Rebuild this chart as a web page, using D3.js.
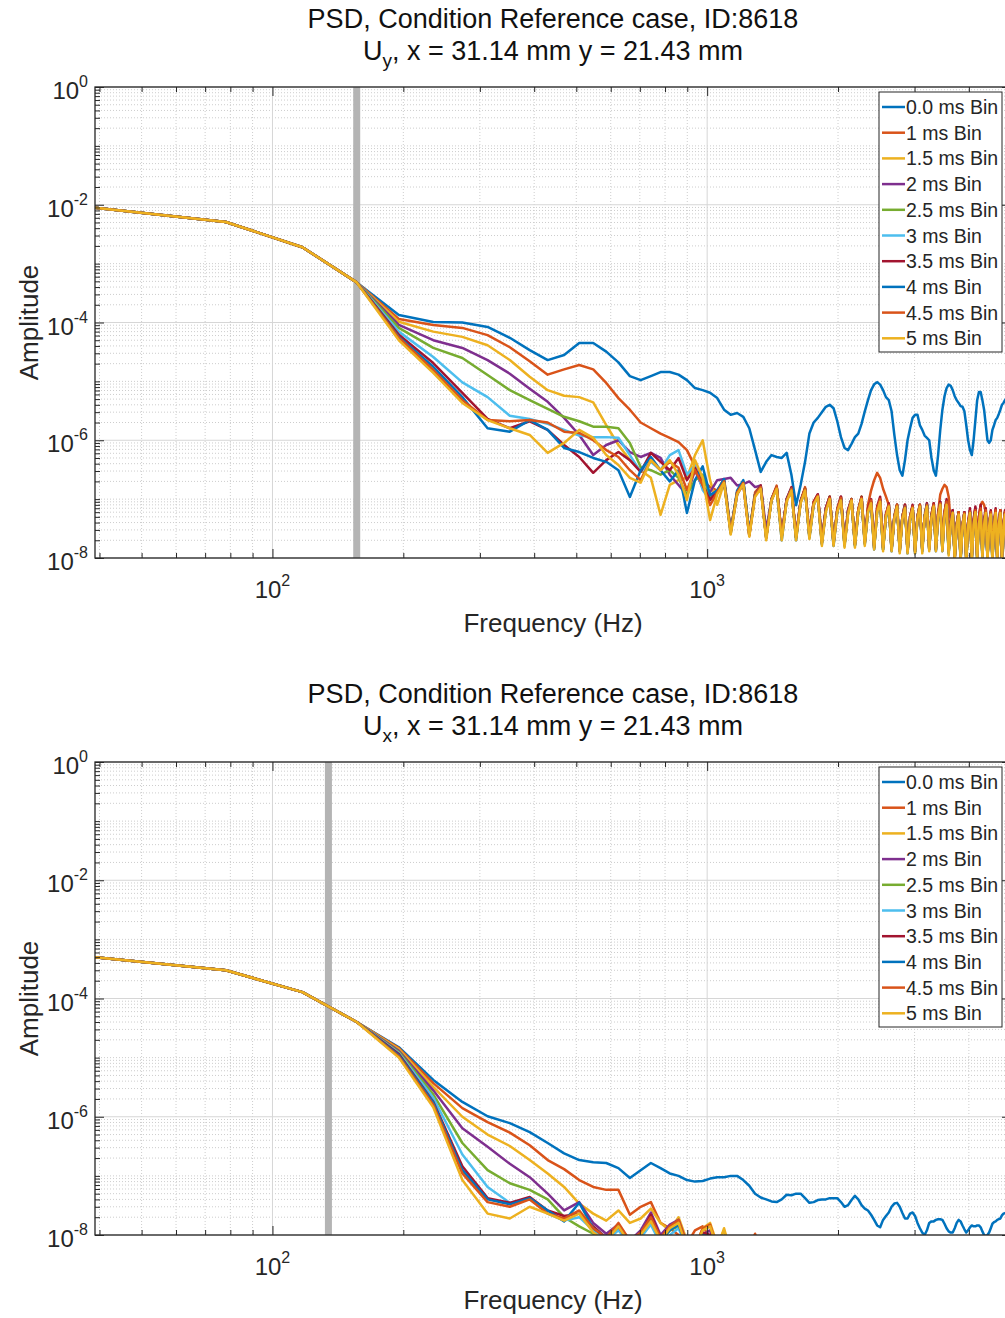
<!DOCTYPE html>
<html lang="en">
<head>
<meta charset="UTF-8">
<title>PSD, Condition Reference case, ID:8618</title>
<script src="https://cdn.jsdelivr.net/npm/d3@7"></script>
<style>
  body { margin: 0; background: #fff; }
  svg { display: block; font-family: "Liberation Sans", Arial, Helvetica, sans-serif; }
</style>
</head>
<body>
<div id="chart"></div>
<script>
// FFT bin grid: 39.0625 Hz spacing, 128 bins up to 5 kHz
var df = 39.0625;
var freq = d3.range(1, 129).map(function (k) { return k * df; });

var binNames = ["0.0 ms Bin", "1 ms Bin", "1.5 ms Bin", "2 ms Bin", "2.5 ms Bin",
                "3 ms Bin", "3.5 ms Bin", "4 ms Bin", "4.5 ms Bin", "5 ms Bin"];
var colors = ["#0072BD", "#D95319", "#EDB120", "#7E2F8E", "#77AC30",
              "#4DBEEE", "#A2142F", "#0072BD", "#D95319", "#EDB120"];

var xMajorTicks = [100, 1000];
var yMajorTicks = [1e0, 1e-2, 1e-4, 1e-6, 1e-8];
var markerFreq = [156.25, 134.5];

// ---- U_y spectra (top) ----
var uy00 = [8.9e-3,5.1e-3,1.9e-3,4.8e-4,
  1.34e-4,1.02e-4,1.0e-4,8.4e-5,5.5e-5,3.4e-5,2.3e-5,2.8e-5,
  4.5e-5,4.5e-5,3.2e-5,2.1e-5,1.23e-5,1.05e-5,1.23e-5,1.44e-5,
  1.44e-5,1.3e-5,1.05e-5,7.7e-6,7.1e-6,6.4e-6,
  5.2e-6,3.3e-6,2.7e-6,2.9e-6,2.5e-6,1.6e-6,
  6.8e-7,2.9e-7,4.3e-7,5.6e-7,5.2e-7,5.0e-7,6.1e-7,2.6e-7,
  7.9e-8,1.74e-7,4.3e-7,1.3e-6,2.0e-6,2.4e-6,3.0e-6,3.7e-6,4.0e-6,3.5e-6,
  2.1e-6,1.13e-6,7.4e-7,6.8e-7,8.7e-7,1.13e-6,1.3e-6,1.9e-6,3.1e-6,4.8e-6,
  7.1e-6,8.9e-6,9.7e-6,8.8e-6,7.1e-6,5.4e-6,4.8e-6,3.1e-6,1.23e-6,5.6e-7,
  3.1e-7,2.5e-7,4.6e-7,1.0e-6,1.6e-6,2.4e-6,2.7e-6,2.7e-6,1.8e-6,1.5e-6,
  1.2e-6,1.1e-6,1.0e-6,5.0e-7,3.1e-7,2.5e-7,5.6e-7,1.5e-6,3.3e-6,5.6e-6,
  7.7e-6,8.8e-6,8.4e-6,7.1e-6,5.6e-6,4.8e-6,4.3e-6,3.8e-6,3.7e-6,3.1e-6,
  1.8e-6,1.0e-6,6.8e-7,5.6e-7,1.0e-6,2.2e-6,4.8e-6,6.6e-6,6.6e-6,4.8e-6,
  3.3e-6,1.8e-6,1.0e-6,9.0e-7,1.0e-6,1.5e-6,1.8e-6,2.2e-6,2.4e-6,2.8e-6,
  3.3e-6,4.0e-6,4.3e-6,4.8e-6,5.2e-6,5.4e-6,5.4e-6,5.2e-6];
var uy10 = [8.9e-3,5.1e-3,1.9e-3,4.8e-4,
  1.15e-4,9.1e-5,8.1e-5,6.1e-5,3.8e-5,2.2e-5,1.3e-5,1.6e-5,
  1.9e-5,1.6e-5,9.4e-6,5.2e-6,3.3e-6,2.0e-6,1.6e-6,1.3e-6,
  1.1e-6,9.3e-7,6.8e-7,3.6e-7,2.1e-7,1.6e-7,
  1.4e-7,2.2e-7,3e-8, 1.3e-7,2e-7,2.6e-8, 1.3e-7,1.7e-7,2.2e-8, 1e-7,1.7e-7,2.4e-8,
  1e-7,1.5e-7,2.2e-8, 9e-8,1.6e-7,2.5e-8, 9e-8,1.2e-7,1.9e-8, 7e-8,1.1e-7,1.8e-8,
  7e-8,1.1e-7,1.7e-8, 6.5e-8,1e-7,1.8e-8, 6.5e-8,1.1e-7,2e-8, 8e-8,1.4e-7,2.1e-7,
  2.8e-7,2.3e-7,1.5e-7, 1.1e-7,8e-8,2e-8, 5e-8,8e-8,1.4e-8, 5e-8,8e-8,1.4e-8,
  5e-8,7.5e-8,1.3e-8, 5e-8,8e-8,1.4e-8, 5e-8,8e-8,1.5e-8, 5.5e-8,8.5e-8,1.6e-8,
  6e-8,1.2e-7,1.5e-7, 1.75e-7,1.6e-7,1.1e-7, 4e-8,6.5e-8,1e-8, 3.6e-8,6e-8,1e-8,
  3.6e-8,6e-8,1e-8, 3.6e-8,6e-8,1e-8, 4e-8,7e-8,1.1e-8, 5e-8,8e-8,9e-8,
  8e-8,6e-8,1e-8, 3.6e-8,6e-8,1e-8, 3.6e-8,6e-8,1e-8, 4e-8,6.5e-8,1.1e-8,
  4e-8,6e-8,1e-8, 3.6e-8,6e-8,1e-8];
var uy15 = [8.9e-3,5.1e-3,1.9e-3,4.8e-4,
  1.03e-4,7.0e-5,5.7e-5,4.1e-5,2.3e-5,1.2e-5,7.1e-6,5.7e-6,
  5.4e-6,4.4e-6,1.8e-6,8.3e-7,4.6e-7,3.1e-7,2.3e-7,5.4e-8,
  1.74e-7,2.1e-7,2.3e-7,5.6e-7,1.0e-6,2.1e-7,
  8e-8,1.9e-7,2.6e-8, 1.2e-7,1.9e-7,2.4e-8, 1.2e-7,1.6e-7,2.2e-8, 1e-7,1.6e-7,2.3e-8,
  9.5e-8,1.5e-7,2.2e-8, 9e-8,1.5e-7,2.4e-8, 9e-8,1.1e-7,1.8e-8, 6.5e-8,1.1e-7,1.8e-8,
  6.5e-8,1e-7,1.7e-8, 6e-8,1e-7,1.7e-8, 6.5e-8,1e-7,1.8e-8, 6e-8,8.5e-8,1.5e-8,
  6e-8,9e-8,1.4e-8, 5e-8,8e-8,1.4e-8, 5e-8,7.5e-8,1.3e-8, 5e-8,8e-8,1.4e-8,
  4.5e-8,7.5e-8,1.3e-8, 5e-8,7.5e-8,1.4e-8, 5e-8,8e-8,1.4e-8, 5e-8,8e-8,1.5e-8,
  5e-8,8e-8,1.4e-8, 5.5e-8,9e-8,1.3e-8, 4e-8,6e-8,1e-8, 3.6e-8,6e-8,1e-8,
  3.6e-8,5.5e-8,9e-9, 3.6e-8,6e-8,1e-8, 3.8e-8,6.5e-8,1e-8, 4e-8,6.5e-8,1.1e-8,
  4e-8,6e-8,1e-8, 3.6e-8,6e-8,9e-9, 3.6e-8,6e-8,1e-8, 3.8e-8,6e-8,1e-8,
  3.6e-8,5.5e-8,9e-9, 3.5e-8,6e-8,1e-8];
var uy20 = [8.9e-3,5.1e-3,1.9e-3,4.8e-4,
  9.1e-5,5.0e-5,3.7e-5,2.3e-5,1.35e-5,7.5e-6,4.5e-6,2.4e-6,
  1.23e-6,5.6e-7,8.3e-7,1.0e-6,6.3e-7,5.2e-7,6.1e-7,5.0e-7,
  2.6e-7,1.74e-7,1.17e-7,3.1e-7,1.55e-7,1.32e-7,
  2.1e-7,2.2e-7,2.3e-7, 1.7e-7,1.8e-7,2e-7, 1.6e-7,1.7e-7,3e-8, 1e-7,1.6e-7,2.4e-8,
  1e-7,1.5e-7,2.3e-8, 9e-8,1.5e-7,2.3e-8, 8.5e-8,1.2e-7,1.9e-8, 7e-8,1.1e-7,1.8e-8,
  6.5e-8,1.1e-7,1.8e-8, 6.5e-8,1e-7,1.7e-8, 6.5e-8,1.05e-7,1.8e-8, 6.5e-8,9e-8,1.6e-8,
  7e-8,1e-7,1.5e-8, 5.5e-8,8e-8,1.4e-8, 5e-8,8e-8,1.4e-8, 5e-8,8e-8,1.3e-8,
  5e-8,7.5e-8,1.3e-8, 5e-8,8e-8,1.4e-8, 5e-8,8.5e-8,1.5e-8, 5e-8,8e-8,1.4e-8,
  5.5e-8,9e-8,1.5e-8, 6e-8,9e-8,1.3e-8, 4e-8,6.5e-8,1e-8, 3.8e-8,6e-8,1e-8,
  3.6e-8,6e-8,1e-8, 4e-8,6.5e-8,1.1e-8, 4.5e-8,7e-8,1.1e-8, 4.5e-8,7e-8,1.1e-8,
  4e-8,6.5e-8,1e-8, 3.6e-8,6e-8,1e-8, 3.8e-8,6.5e-8,1e-8, 4e-8,6.5e-8,1e-8,
  3.8e-8,6e-8,1e-8, 3.6e-8,6e-8,1e-8];
var uy25 = [8.9e-3,5.1e-3,1.9e-3,4.8e-4,
  8.1e-5,3.7e-5,2.5e-5,1.28e-5,7.1e-6,4.8e-6,3.4e-6,2.5e-6,
  2.1e-6,1.7e-6,1.7e-6,1.6e-6,9.0e-7,3.5e-7,3.1e-7,2.6e-7,
  3.1e-7,2.3e-7,1.17e-7,2.1e-7,2.6e-7,1.09e-7,
  1.4e-7,2e-7,2.8e-8, 1.3e-7,2e-7,2.6e-8, 1.2e-7,1.6e-7,2.3e-8, 9.5e-8,1.6e-7,2.3e-8,
  9.5e-8,1.5e-7,2.2e-8, 9e-8,1.5e-7,2.3e-8, 8.5e-8,1.1e-7,1.8e-8, 6.5e-8,1.1e-7,1.8e-8,
  6.5e-8,1.05e-7,1.7e-8, 6e-8,1e-7,1.7e-8, 6.5e-8,1.1e-7,1.9e-8, 6.5e-8,9e-8,1.5e-8,
  6.5e-8,9.5e-8,1.4e-8, 5e-8,8e-8,1.4e-8, 5e-8,8e-8,1.3e-8, 5e-8,7.5e-8,1.3e-8,
  4.8e-8,7.5e-8,1.3e-8, 5e-8,8e-8,1.4e-8, 5e-8,8e-8,1.5e-8, 5.2e-8,8e-8,1.4e-8,
  5e-8,8.5e-8,1.4e-8, 5.5e-8,8.5e-8,1.2e-8, 3.8e-8,6e-8,1e-8, 3.6e-8,6e-8,9.5e-9,
  3.6e-8,5.8e-8,1e-8, 3.6e-8,6e-8,1e-8, 4e-8,6.5e-8,1e-8, 4.2e-8,6.5e-8,1.1e-8,
  4e-8,6e-8,1e-8, 3.5e-8,5.8e-8,9e-9, 3.6e-8,6e-8,1e-8, 3.8e-8,6.2e-8,1e-8,
  3.6e-8,6e-8,9.5e-9, 3.6e-8,5.8e-8,1e-8];
var uy30 = [8.9e-3,5.1e-3,1.9e-3,4.8e-4,
  7.0e-5,2.6e-5,9.6e-6,5.4e-6,2.6e-6,2.3e-6,1.9e-6,1.5e-6,
  1.2e-6,1.13e-6,1.13e-6,1.1e-6,5.6e-7,2.9e-7,4.3e-7,3.1e-7,
  5.6e-7,6.8e-7,2.6e-7,3.8e-7,1.43e-7,9.7e-8,
  1.3e-7,1.9e-7,2.6e-8, 1.2e-7,1.9e-7,2.5e-8, 1.2e-7,1.6e-7,2.3e-8, 1e-7,1.5e-7,2.3e-8,
  9.5e-8,1.5e-7,2.2e-8, 9e-8,1.4e-7,2.3e-8, 8.5e-8,1.1e-7,1.8e-8, 6.5e-8,1.05e-7,1.7e-8,
  6.5e-8,1e-7,1.7e-8, 6e-8,1e-7,1.6e-8, 6e-8,1e-7,1.8e-8, 6e-8,8.5e-8,1.5e-8,
  6.5e-8,9e-8,1.4e-8, 5e-8,8e-8,1.4e-8, 5e-8,7.5e-8,1.3e-8, 5e-8,7.5e-8,1.3e-8,
  4.8e-8,7.5e-8,1.3e-8, 5e-8,7.5e-8,1.3e-8, 5e-8,8e-8,1.4e-8, 5e-8,8e-8,1.4e-8,
  5e-8,8e-8,1.4e-8, 5.5e-8,8.5e-8,1.2e-8, 3.8e-8,6e-8,1e-8, 3.6e-8,5.8e-8,9.5e-9,
  3.5e-8,5.8e-8,9.5e-9, 3.6e-8,6e-8,1e-8, 4e-8,6.2e-8,1e-8, 4e-8,6.5e-8,1e-8,
  3.8e-8,6e-8,1e-8, 3.5e-8,5.8e-8,9e-9, 3.6e-8,6e-8,1e-8, 3.8e-8,6e-8,1e-8,
  3.6e-8,5.8e-8,9e-9, 3.5e-8,5.8e-8,1e-8];
var uy35 = [8.9e-3,5.1e-3,1.9e-3,4.8e-4,
  6.2e-5,2.05e-5,6.4e-6,2.3e-6,1.6e-6,2.1e-6,1.5e-6,8.3e-7,
  5.2e-7,2.8e-7,4.6e-7,6.3e-7,4.6e-7,2.9e-7,6.1e-7,4.3e-7,
  3.1e-7,5.0e-7,2.1e-7,3.4e-7,1.74e-7,9.7e-8,
  1.4e-7,2e-7,2.8e-8, 1.2e-7,1.8e-7,2.4e-8, 1.2e-7,1.7e-7,2.3e-8, 1e-7,1.6e-7,2.4e-8,
  1e-7,1.6e-7,2.3e-8, 9.5e-8,1.5e-7,2.4e-8, 9e-8,1.2e-7,1.9e-8, 7e-8,1.1e-7,1.8e-8,
  6.5e-8,1.1e-7,1.8e-8, 6.5e-8,1e-7,1.7e-8, 6.5e-8,1.1e-7,1.9e-8, 7e-8,1e-7,1.6e-8,
  7.5e-8,1.1e-7,1.5e-8, 5.5e-8,8.5e-8,1.4e-8, 5e-8,8e-8,1.4e-8, 5e-8,8e-8,1.3e-8,
  5e-8,8e-8,1.4e-8, 5e-8,8e-8,1.4e-8, 5e-8,8.5e-8,1.5e-8, 5.5e-8,8.5e-8,1.5e-8,
  5.5e-8,9e-8,1.5e-8, 6e-8,1e-7,1.3e-8, 4e-8,6.5e-8,1e-8, 3.8e-8,6e-8,1e-8,
  3.6e-8,6e-8,1e-8, 4e-8,7e-8,1.1e-8, 4.5e-8,7.5e-8,1.1e-8, 5e-8,8e-8,1.2e-8,
  4.5e-8,7e-8,1e-8, 3.8e-8,6.5e-8,1e-8, 4e-8,7e-8,1e-8, 4e-8,6.5e-8,1e-8,
  3.8e-8,6.5e-8,1e-8, 3.6e-8,6e-8,1e-8];
var uy40 = [8.9e-3,5.1e-3,1.9e-3,4.8e-4,
  5.7e-5,1.77e-5,5.4e-6,1.6e-6,1.4e-6,2.2e-6,1.5e-6,7.4e-7,
  6.3e-7,5.0e-7,4.3e-7,3.1e-7,1.09e-7,3.1e-7,5.2e-7,3.1e-7,
  2.0e-7,3.1e-7,5.8e-8,2.1e-7,3.6e-7,1.17e-7,
  1.4e-7,2.2e-7,2.8e-8, 1.4e-7,2.1e-7,2.7e-8, 1.2e-7,1.6e-7,2.2e-8, 1e-7,1.5e-7,2e-8,
  9.5e-8,1.5e-7,2e-8, 9e-8,1.4e-7,2.2e-8, 8e-8,1.1e-7,1.7e-8, 6.5e-8,1e-7,1.6e-8,
  6e-8,1e-7,1.6e-8, 6e-8,9.5e-8,1.6e-8, 6e-8,1e-7,1.7e-8, 6e-8,8.5e-8,1.4e-8,
  6.5e-8,9.5e-8,1.4e-8, 5e-8,7.5e-8,1.3e-8, 4.8e-8,7.5e-8,1.3e-8, 4.8e-8,7.5e-8,1.2e-8,
  4.5e-8,7e-8,1.2e-8, 4.8e-8,7.5e-8,1.3e-8, 5e-8,8e-8,1.4e-8, 5e-8,7.5e-8,1.3e-8,
  5e-8,8e-8,1.3e-8, 5.5e-8,8.5e-8,1.2e-8, 3.8e-8,6e-8,9.5e-9, 3.5e-8,5.5e-8,9e-9,
  3.4e-8,5.5e-8,9e-9, 3.6e-8,6e-8,1e-8, 3.8e-8,6e-8,1e-8, 4e-8,6.2e-8,1e-8,
  3.8e-8,6e-8,9.5e-9, 3.4e-8,5.5e-8,9e-9, 3.5e-8,5.8e-8,9.5e-9, 3.6e-8,6e-8,1e-8,
  3.5e-8,5.5e-8,9e-9, 3.4e-8,5.5e-8,9e-9];
var uy45 = [8.9e-3,5.1e-3,1.9e-3,4.8e-4,
  5.5e-5,1.56e-5,4.8e-6,2.2e-6,2.1e-6,2.2e-6,2.0e-6,1.4e-6,
  1.33e-6,1.0e-6,6.8e-7,5.2e-7,3.1e-7,2.1e-7,4.6e-7,3.1e-7,
  4.3e-7,3.4e-7,1.43e-7,3.1e-7,1.74e-7,7.9e-8,
  1.3e-7,2e-7,2.7e-8, 1.3e-7,1.9e-7,2.5e-8, 1.2e-7,1.6e-7,2.2e-8, 1e-7,1.6e-7,2.3e-8,
  9.5e-8,1.5e-7,2.2e-8, 9e-8,1.5e-7,2.4e-8, 8.5e-8,1.15e-7,1.8e-8, 6.5e-8,1.05e-7,1.7e-8,
  6.5e-8,1.05e-7,1.7e-8, 6e-8,1e-7,1.7e-8, 6.5e-8,1.05e-7,1.8e-8, 6.5e-8,9.5e-8,1.5e-8,
  7e-8,1e-7,1.5e-8, 5.5e-8,8e-8,1.4e-8, 5e-8,8e-8,1.3e-8, 5e-8,7.5e-8,1.3e-8,
  4.8e-8,7.5e-8,1.3e-8, 5e-8,8e-8,1.4e-8, 5e-8,8e-8,1.4e-8, 5e-8,8e-8,1.4e-8,
  5.5e-8,8.5e-8,1.4e-8, 6e-8,9e-8,1.3e-8, 4e-8,6e-8,1e-8, 3.6e-8,6e-8,1e-8,
  3.6e-8,5.8e-8,9.5e-9, 3.8e-8,6.2e-8,1e-8, 4e-8,6.5e-8,1e-8, 4.5e-8,7e-8,1.1e-8,
  4e-8,6.5e-8,1e-8, 3.6e-8,6e-8,1e-8, 3.8e-8,6.5e-8,1e-8, 4e-8,6.5e-8,1e-8,
  3.8e-8,6e-8,1e-8, 3.6e-8,6e-8,9.5e-9];
var uy50 = [8.9e-3,5.1e-3,1.9e-3,4.8e-4,
  5.0e-5,1.39e-5,4.3e-6,2.2e-6,1.6e-6,1.23e-6,6.1e-7,9.0e-7,
  1.5e-6,1.1e-6,5.6e-7,3.8e-7,2.3e-7,1.9e-7,4.6e-7,3.1e-7,
  4.6e-7,2.6e-7,9.7e-8,4.6e-7,2.3e-7,4.4e-8,
  1.2e-7,1.9e-7,2.5e-8, 1.2e-7,1.8e-7,2.3e-8, 1.1e-7,1.5e-7,2e-8, 9.5e-8,1.5e-7,2e-8,
  9e-8,1.4e-7,2e-8, 8.5e-8,1.4e-7,2.1e-8, 8e-8,1.1e-7,1.6e-8, 6e-8,1e-7,1.6e-8,
  6e-8,9.5e-8,1.5e-8, 5.5e-8,9.5e-8,1.5e-8, 6e-8,1e-7,1.6e-8, 6e-8,8.5e-8,1.4e-8,
  6e-8,9e-8,1.3e-8, 5e-8,7.5e-8,1.3e-8, 4.6e-8,7.5e-8,1.2e-8, 4.6e-8,7e-8,1.2e-8,
  4.5e-8,7e-8,1.2e-8, 4.6e-8,7.5e-8,1.2e-8, 4.8e-8,7.5e-8,1.3e-8, 4.8e-8,7.5e-8,1.3e-8,
  5e-8,8e-8,1.3e-8, 5e-8,8e-8,1.1e-8, 3.6e-8,5.8e-8,9e-9, 3.4e-8,5.5e-8,9e-9,
  3.4e-8,5.5e-8,8.5e-9, 3.5e-8,5.8e-8,9e-9, 3.6e-8,6e-8,9.5e-9, 3.8e-8,6e-8,1e-8,
  3.6e-8,5.8e-8,9e-9, 3.4e-8,5.5e-8,8.5e-9, 3.5e-8,5.8e-8,9e-9, 3.6e-8,5.8e-8,9e-9,
  3.4e-8,5.5e-8,8.5e-9, 3.4e-8,5.5e-8,9e-9];

// ---- U_x spectra (bottom); the shorter ones drop below 1e-8 for good after ~1.4 kHz ----
var ux00 = [5.0e-4,3.0e-4,1.28e-4,4.0e-5,
  1.5e-5,4.2e-6,1.78e-6,1.02e-6,
  7.8e-7,5.5e-7,3.6e-7,2.4e-7,1.85e-7,1.7e-7,1.65e-7,1.35e-7,
  9.2e-8,1.25e-7,1.65e-7,1.35e-7,1.1e-7,1.0e-7,8.5e-8,8.0e-8,8.2e-8,9.0e-8,
  9.5e-8,9.5e-8,1.0e-7,1.0e-7,8.5e-8,6.8e-8,5.0e-8,4.3e-8,4.0e-8,3.7e-8,
  3.6e-8,4.0e-8,4.8e-8,4.7e-8,5.0e-8,5.0e-8,4.2e-8,3.5e-8,3.6e-8,3.9e-8,
  4.0e-8,4.0e-8,4.2e-8,4.2e-8,4.2e-8,3.6e-8,3.0e-8,3.2e-8,3.9e-8,4.6e-8,
  4.0e-8,3.2e-8,2.8e-8,2.6e-8,2.2e-8,1.8e-8,1.45e-8,1.35e-8,1.8e-8,2.1e-8,
  2.4e-8,3.0e-8,3.4e-8,3.5e-8,3.0e-8,2.35e-8,1.9e-8,1.9e-8,2.3e-8,2.4e-8,
  2.1e-8,1.6e-8,1.3e-8,1.1e-8,1.0e-8,1.2e-8,1.6e-8,1.7e-8,1.7e-8,1.8e-8,
  1.85e-8,1.85e-8,1.8e-8,1.55e-8,1.3e-8,1.15e-8,1.1e-8,1.1e-8,1.3e-8,1.6e-8,
  1.8e-8,1.7e-8,1.45e-8,1.25e-8,1.1e-8,1.2e-8,1.35e-8,1.45e-8,1.4e-8,1.4e-8,
  1.45e-8,1.45e-8,1.35e-8,1.15e-8,1.0e-8,9.5e-9,1.0e-8,1.1e-8,1.3e-8,1.55e-8,
  1.65e-8,1.7e-8,1.8e-8,1.85e-8,1.9e-8,2.15e-8,2.3e-8,2.35e-8,2.3e-8,2.2e-8,2.2e-8,2.1e-8];
var ux10 = [5.0e-4,3.0e-4,1.28e-4,4.0e-5,
  1.45e-5,3.7e-6,1.4e-6,8.1e-7,
  5.4e-7,3.3e-7,1.85e-7,1.3e-7,8.5e-8,6.5e-8,5.8e-8,5.8e-8,
  2.2e-8,3.0e-8,3.6e-8,1.6e-8,1.3e-8,1.0e-8,7e-9,1.2e-8,1.4e-8,9e-9,
  5e-9,8e-9,5e-9,4e-9,4e-9,6e-9,1.05e-8,5e-9,4e-9,3e-9];
var ux15 = [5.0e-4,3.0e-4,1.28e-4,4.0e-5,
  1.4e-5,3.2e-6,1.0e-6,5.0e-7,
  3.2e-7,1.85e-7,1.1e-7,6.5e-8,3.4e-8,2.3e-8,1.75e-8,2.6e-8,
  1.6e-8,1.9e-8,2.8e-8,1.6e-8,1.2e-8,2.0e-8,8e-9,6e-9,1.3e-8,1.6e-8,
  7e-9,1.2e-8,5e-9,4e-9,4e-9,3e-9,4e-9,3e-9,3e-9,3e-9];
var ux20 = [5.0e-4,3.0e-4,1.28e-4,4.0e-5,
  1.3e-5,2.8e-6,6.4e-7,3.1e-7,
  1.6e-7,9.5e-8,5.0e-8,2.6e-8,3.6e-8,1.6e-8,1.05e-8,1.5e-8,
  8e-9,1.2e-8,2.4e-8,1.0e-8,1.5e-8,1.8e-8,7e-9,5e-9,1.0e-8,1.2e-8,
  5e-9,8e-9,4e-9,3e-9,3e-9,3e-9,3e-9,3e-9,3e-9,3e-9];
var ux25 = [5.0e-4,3.0e-4,1.28e-4,4.0e-5,
  1.25e-5,2.4e-6,3.6e-7,1.25e-7,
  7.5e-8,5.8e-8,4.0e-8,2.0e-8,1.4e-8,1.05e-8,9e-9,1.3e-8,
  7e-9,1.0e-8,1.6e-8,8e-9,1.2e-8,1.4e-8,6e-9,5e-9,1.0e-8,9e-9,
  4e-9,6e-9,3e-9,3e-9,3e-9,3e-9,3e-9,3e-9,3e-9,3e-9];
var ux30 = [5.0e-4,3.0e-4,1.28e-4,4.0e-5,
  1.2e-5,2.1e-6,2.3e-7,6.5e-8,
  3.5e-8,4.2e-8,2.3e-8,1.75e-8,2.0e-8,1.2e-8,8e-9,1.2e-8,
  7e-9,9e-9,1.5e-8,7e-9,1.0e-8,1.3e-8,6e-9,5e-9,9e-9,7e-9,
  4e-9,3e-9,3e-9,3e-9,3e-9,3e-9,3e-9,3e-9,3e-9,3e-9];
var ux35 = [5.0e-4,3.0e-4,1.28e-4,4.0e-5,
  1.15e-5,1.8e-6,1.45e-7,4.2e-8,
  3.5e-8,4.4e-8,2.6e-8,2.1e-8,2.3e-8,1.4e-8,9e-9,1.4e-8,
  7e-9,1.0e-8,2.2e-8,9e-9,1.3e-8,1.7e-8,6e-9,5e-9,1.1e-8,1.0e-8,
  5e-9,7e-9,3e-9,3e-9,3e-9,3e-9,3e-9,3e-9,3e-9,3e-9];
var ux40 = [5.0e-4,3.0e-4,1.28e-4,4.0e-5,
  1.1e-5,1.75e-6,1.25e-7,4.0e-8,
  3.3e-8,4.2e-8,2.6e-8,1.7e-8,3.5e-8,1.3e-8,9e-9,1.5e-8,
  7e-9,1.0e-8,1.8e-8,8e-9,1.2e-8,1.5e-8,6e-9,5e-9,1.0e-8,9e-9,
  4e-9,6e-9,3e-9,3e-9,3e-9,3e-9,3e-9,3e-9,3e-9,3e-9];
var ux45 = [5.0e-4,3.0e-4,1.28e-4,4.0e-5,
  1.05e-5,1.6e-6,1.1e-7,3.6e-8,
  3.0e-8,4.0e-8,2.3e-8,1.9e-8,2.6e-8,1.3e-8,9e-9,1.6e-8,
  8e-9,1.1e-8,2.0e-8,9e-9,1.4e-8,1.8e-8,7e-9,6e-9,1.3e-8,1.5e-8,
  6e-9,9e-9,4e-9,3e-9,3e-9,3e-9,3e-9,3e-9,3e-9,3e-9];
var ux50 = [5.0e-4,3.0e-4,1.28e-4,4.0e-5,
  1.0e-5,1.45e-6,8.5e-8,2.3e-8,
  1.9e-8,3.0e-8,2.3e-8,1.75e-8,2.3e-8,1.1e-8,8e-9,1.4e-8,
  7e-9,1.0e-8,1.7e-8,8e-9,1.3e-8,1.6e-8,6e-9,6e-9,1.2e-8,1.4e-8,
  6e-9,1.3e-8,5e-9,3e-9,3e-9,3e-9,3e-9,3e-9,3e-9,3e-9];

var uySeries = [uy00, uy10, uy15, uy20, uy25, uy30, uy35, uy40, uy45, uy50];
var uxSeries = [ux00, ux10, ux15, ux20, ux25, ux30, ux35, ux40, ux45, ux50];

var width = 1005, height = 1318;
var left = 95, right = 1011;

var panels = [
  {top: 87, bottom: 558, comp: "y", series: uySeries, marker: markerFreq[0]},
  {top: 762, bottom: 1235, comp: "x", series: uxSeries, marker: markerFreq[1]}
];

var svg = d3.select("#chart").append("svg")
    .attr("width", width)
    .attr("height", height);

// minor tick positions: 2..9 in each decade
var xMinor = [], yMinor = [];
[10, 100, 1000].forEach(function (d) {
  d3.range(2, 10).forEach(function (m) {
    var f = m * d;
    if (f >= freq[0] && f <= freq[freq.length - 1]) xMinor.push(f);
  });
});
d3.range(-8, 0).forEach(function (e) {
  d3.range(1, 10).forEach(function (m) {
    var v = m * Math.pow(10, e);
    if (m > 1 || e % 2 !== 0) yMinor.push(v);
  });
});

function powLabel(sel, x, y, exp, anchor) {
  var t = sel.append("text")
      .attr("x", x).attr("y", y)
      .attr("text-anchor", anchor)
      .attr("font-size", 24)
      .attr("fill", "#262626");
  t.append("tspan").text("10");
  t.append("tspan").attr("dy", -12).attr("font-size", 16).text(exp);
}

panels.forEach(function (p, pi) {
  var x = d3.scaleLog().domain([freq[0], freq[freq.length - 1]]).range([left, right]);
  var y = d3.scaleLog().domain([1e-8, 1]).range([p.bottom, p.top]);
  var h = p.bottom - p.top;
  var g = svg.append("g");

  g.append("clipPath").attr("id", "clip" + pi)
    .append("rect")
    .attr("x", left).attr("y", p.top)
    .attr("width", right - left).attr("height", h);

  // grid
  var grid = g.append("g");
  grid.selectAll("line.xmin").data(xMinor).enter().append("line")
      .attr("x1", function (d) { return x(d); }).attr("x2", function (d) { return x(d); })
      .attr("y1", p.top).attr("y2", p.bottom)
      .attr("stroke", "#cdcdcd").attr("stroke-dasharray", "1,2");
  grid.selectAll("line.ymin").data(yMinor).enter().append("line")
      .attr("x1", left).attr("x2", right)
      .attr("y1", function (d) { return y(d); }).attr("y2", function (d) { return y(d); })
      .attr("stroke", "#cdcdcd").attr("stroke-dasharray", "1,2");
  grid.selectAll("line.xmaj").data(xMajorTicks).enter().append("line")
      .attr("x1", function (d) { return x(d); }).attr("x2", function (d) { return x(d); })
      .attr("y1", p.top).attr("y2", p.bottom)
      .attr("stroke", "#d6d6d6");
  grid.selectAll("line.ymaj").data(yMajorTicks).enter().append("line")
      .attr("x1", left).attr("x2", right)
      .attr("y1", function (d) { return y(d); }).attr("y2", function (d) { return y(d); })
      .attr("stroke", "#d6d6d6");

  // marker band
  g.append("rect")
      .attr("x", x(p.marker) - 3.5).attr("y", p.top)
      .attr("width", 7).attr("height", h)
      .attr("fill", "#b4b4b4");

  // spectra
  var line = d3.line()
      .x(function (d, i) { return x(freq[i]); })
      .y(function (d) { return y(d); });
  g.append("g").attr("clip-path", "url(#clip" + pi + ")")
    .selectAll("path").data(p.series).enter().append("path")
      .attr("d", line)
      .attr("fill", "none")
      .attr("stroke", function (d, i) { return colors[i]; })
      .attr("stroke-width", 2.5)
      .attr("stroke-linejoin", "round");

  // axes ticks (inward, all four sides)
  function ticks(axis, vals, size, tr) {
    var a = g.append("g").attr("transform", tr)
        .call(axis.tickValues(vals).tickSize(-size).tickFormat(""));
    a.select(".domain").remove();
    a.selectAll("line").attr("stroke", "#262626");
  }
  ticks(d3.axisBottom(x), xMajorTicks, 9, "translate(0," + p.bottom + ")");
  ticks(d3.axisBottom(x), xMinor, 5, "translate(0," + p.bottom + ")");
  ticks(d3.axisTop(x), xMajorTicks, 9, "translate(0," + p.top + ")");
  ticks(d3.axisTop(x), xMinor, 5, "translate(0," + p.top + ")");
  ticks(d3.axisLeft(y), yMajorTicks, 9, "translate(" + left + ",0)");
  ticks(d3.axisLeft(y), yMinor, 5, "translate(" + left + ",0)");
  ticks(d3.axisRight(y), yMajorTicks, 9, "translate(" + right + ",0)");
  ticks(d3.axisRight(y), yMinor, 5, "translate(" + right + ",0)");

  g.append("rect")
      .attr("x", left).attr("y", p.top)
      .attr("width", right - left).attr("height", h)
      .attr("fill", "none").attr("stroke", "#262626").attr("stroke-width", 1.3);

  // tick labels
  xMajorTicks.forEach(function (v) {
    powLabel(g, x(v), p.bottom + 40, String(Math.round(Math.log10(v))), "middle");
  });
  yMajorTicks.forEach(function (v) {
    powLabel(g, 88, y(v) + 12, String(Math.round(Math.log10(v))), "end");
  });

  // axis labels
  g.append("text")
      .attr("x", (left + right) / 2).attr("y", p.bottom + 74)
      .attr("text-anchor", "middle").attr("font-size", 26).attr("fill", "#262626")
      .text("Frequency (Hz)");
  g.append("text")
      .attr("transform", "translate(38," + (p.top + h / 2) + ") rotate(-90)")
      .attr("text-anchor", "middle").attr("font-size", 26).attr("fill", "#262626")
      .text("Amplitude");

  // title
  g.append("text")
      .attr("x", (left + right) / 2).attr("y", p.top - 59)
      .attr("text-anchor", "middle").attr("font-size", 27).attr("fill", "#111")
      .text("PSD, Condition Reference case, ID:8618");
  var t2 = g.append("text")
      .attr("x", (left + right) / 2).attr("y", p.top - 27)
      .attr("text-anchor", "middle").attr("font-size", 27).attr("fill", "#111");
  t2.append("tspan").text("U");
  t2.append("tspan").attr("dy", 7).attr("font-size", 19).text(p.comp);
  t2.append("tspan").attr("dy", -7).text(", x = 31.14 mm y = 21.43 mm");

  // legend
  var lg = g.append("g");
  lg.append("rect")
      .attr("x", 879).attr("y", p.top + 5)
      .attr("width", 123).attr("height", 260)
      .attr("fill", "#fff").attr("stroke", "#262626").attr("stroke-width", 1);
  binNames.forEach(function (name, i) {
    var ly = p.top + 20 + i * 25.7;
    lg.append("line")
        .attr("x1", 882).attr("x2", 905).attr("y1", ly).attr("y2", ly)
        .attr("stroke", colors[i]).attr("stroke-width", 2.5);
    lg.append("text")
        .attr("x", 906).attr("y", ly + 7)
        .attr("font-size", 19.5).attr("fill", "#262626")
        .text(name);
  });
});
</script>
</body>
</html>
